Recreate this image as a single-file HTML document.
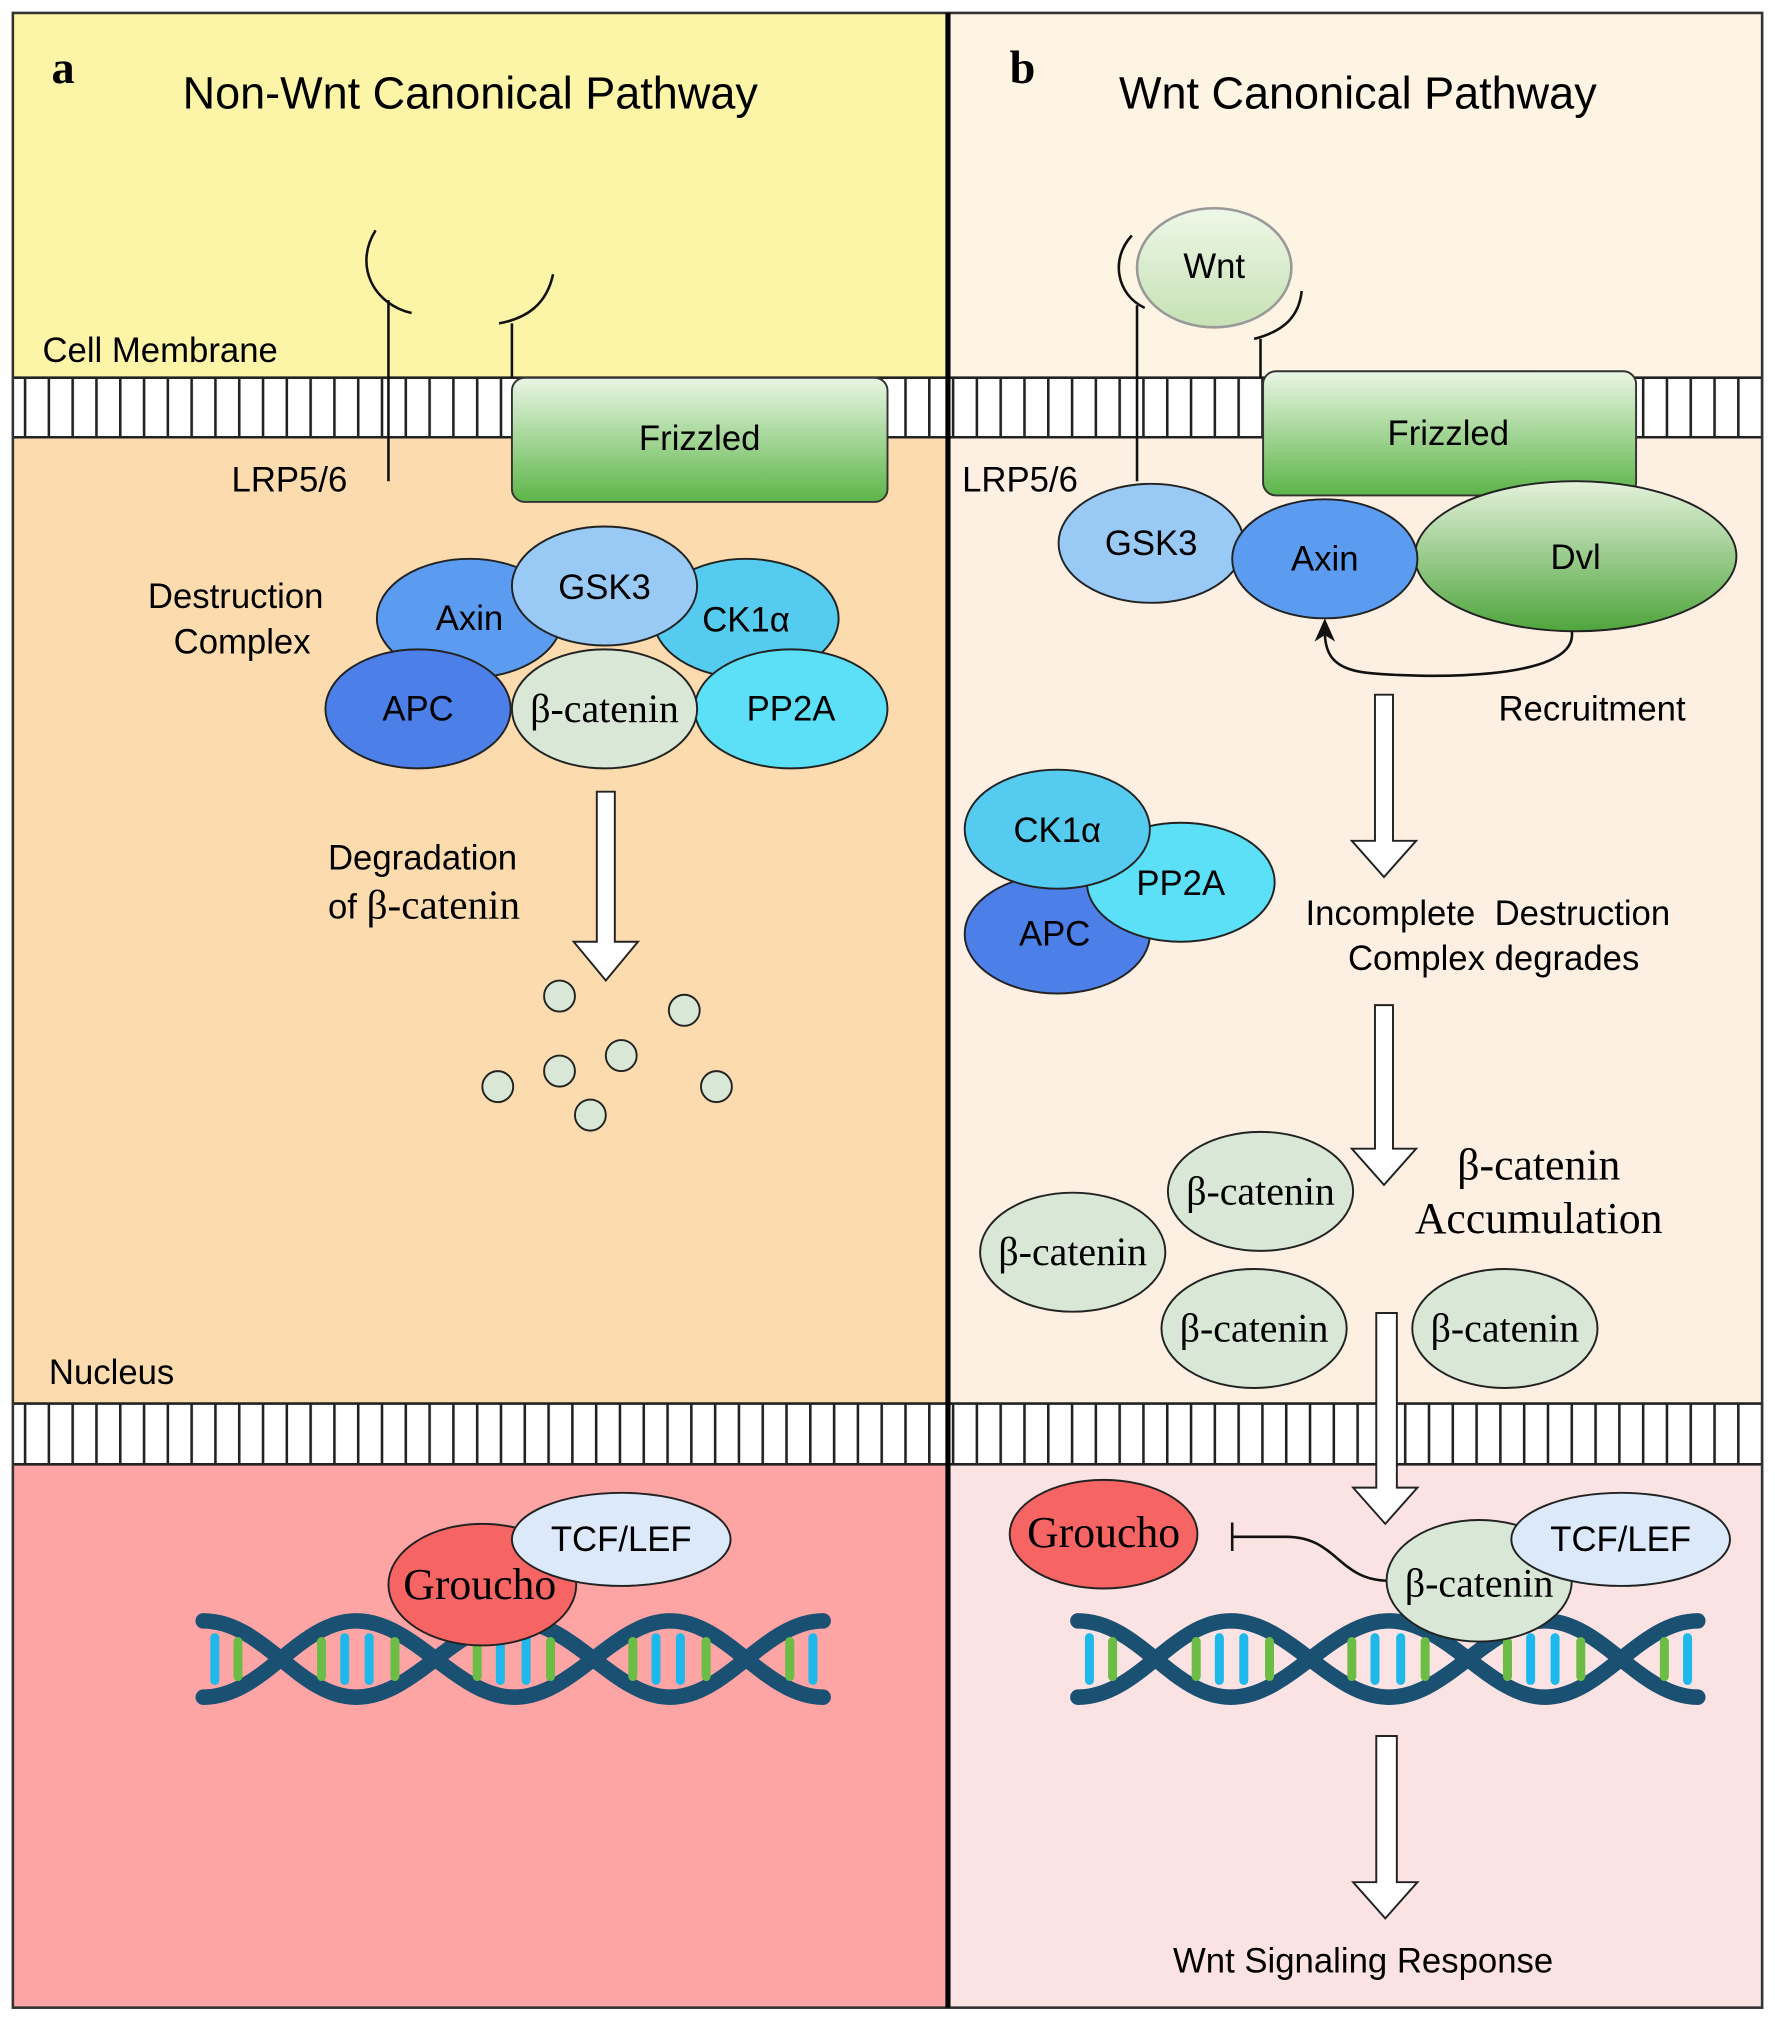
<!DOCTYPE html>
<html><head><meta charset="utf-8"><style>html,body{margin:0;padding:0;background:#fff}svg{display:block}
.s{font-family:"Liberation Sans",sans-serif;font-size:27px;fill:#000}
.r{font-family:"Liberation Serif",serif;font-size:31px;fill:#000}
.e{stroke:#222;stroke-width:1.5}</style></head><body>
<svg width="1775" height="2018" viewBox="0 0 1380 1560" preserveAspectRatio="none" xmlns="http://www.w3.org/2000/svg">
<defs>
<pattern id="mb" x="0" y="0" width="18.5" height="50" patternUnits="userSpaceOnUse"><rect width="18.5" height="50" fill="#fff"/><rect x="0" y="0" width="2" height="50" fill="#222"/></pattern>
<linearGradient id="fz" x1="0" y1="0" x2="0" y2="1"><stop offset="0" stop-color="#eaf6e4"/><stop offset="1" stop-color="#5cb548"/></linearGradient>
<linearGradient id="dv" x1="0" y1="0" x2="0" y2="1"><stop offset="0" stop-color="#e4f2dc"/><stop offset="1" stop-color="#4ea53c"/></linearGradient>
<linearGradient id="wn" x1="0" y1="0" x2="0" y2="1"><stop offset="0" stop-color="#eef7e8"/><stop offset="1" stop-color="#c6e2b4"/></linearGradient>
<g id="dna">
<path d="M158 1253 C205 1253 232 1312 277 1312 C322 1312 355 1253 400 1253 C445 1253 478 1312 521 1312 C565 1312 595 1253 640 1253" fill="none" stroke="#1a5072" stroke-width="12" stroke-linecap="round"/>
<path d="M158 1312 C205 1312 232 1253 277 1253 C322 1253 355 1312 400 1312 C445 1312 478 1253 521 1253 C565 1253 595 1312 640 1312" fill="none" stroke="#1a5072" stroke-width="12" stroke-linecap="round"/>
<g stroke-width="7" stroke-linecap="round">
<line x1="167" y1="1266" x2="167" y2="1299" stroke="#1fb8ea"/><line x1="185" y1="1269" x2="185" y2="1296" stroke="#6bbd45"/>
<line x1="250" y1="1269" x2="250" y2="1296" stroke="#6bbd45"/><line x1="268" y1="1266" x2="268" y2="1299" stroke="#1fb8ea"/>
<line x1="287" y1="1266" x2="287" y2="1299" stroke="#1fb8ea"/><line x1="307" y1="1269" x2="307" y2="1296" stroke="#6bbd45"/>
<line x1="371" y1="1269" x2="371" y2="1296" stroke="#6bbd45"/><line x1="389" y1="1266" x2="389" y2="1299" stroke="#1fb8ea"/>
<line x1="409" y1="1266" x2="409" y2="1299" stroke="#1fb8ea"/><line x1="428" y1="1269" x2="428" y2="1296" stroke="#6bbd45"/>
<line x1="492" y1="1269" x2="492" y2="1296" stroke="#6bbd45"/><line x1="510" y1="1266" x2="510" y2="1299" stroke="#1fb8ea"/>
<line x1="529" y1="1266" x2="529" y2="1299" stroke="#1fb8ea"/><line x1="549" y1="1269" x2="549" y2="1296" stroke="#6bbd45"/>
<line x1="614" y1="1269" x2="614" y2="1296" stroke="#6bbd45"/><line x1="632" y1="1266" x2="632" y2="1299" stroke="#1fb8ea"/>
</g></g>
</defs>
<rect width="1380" height="1560" fill="#fff"/>
<rect x="10" y="10" width="727" height="282" fill="#fcf5a8"/>
<rect x="737" y="10" width="633" height="282" fill="#fdf4e4"/>
<rect x="10" y="338" width="727" height="747" fill="#fcdcae"/>
<rect x="737" y="338" width="633" height="747" fill="#fdf0e3"/>
<rect x="10" y="1132" width="727" height="420" fill="#fda5a5"/>
<rect x="737" y="1132" width="633" height="420" fill="#fbe3e3"/>
<rect x="10" y="292" width="1360" height="46" fill="url(#mb)"/>
<line x1="10" y1="292" x2="1370" y2="292" stroke="#222" stroke-width="2"/>
<line x1="10" y1="338" x2="1370" y2="338" stroke="#222" stroke-width="2"/>
<rect x="10" y="1085" width="1360" height="47" fill="url(#mb)"/>
<line x1="10" y1="1085" x2="1370" y2="1085" stroke="#222" stroke-width="2"/>
<line x1="10" y1="1132" x2="1370" y2="1132" stroke="#222" stroke-width="2"/>
<rect x="10" y="10" width="1360" height="1542" fill="none" stroke="#333" stroke-width="2"/>
<line x1="737" y1="10" x2="737" y2="1552" stroke="#000" stroke-width="4"/>

<!-- LEFT -->
<text x="40" y="64" style="font-family:'Liberation Serif',serif;font-weight:bold;font-size:36px">a</text>
<text x="142" y="84" class="s" style="font-size:35px">Non-Wnt Canonical Pathway</text>
<text x="33" y="280" class="s">Cell Membrane</text>
<path d="M302 372 L302 232" stroke="#111" stroke-width="2" fill="none"/>
<path d="M292 178 C275 205 290 235 320 242" stroke="#111" stroke-width="2" fill="none"/>
<path d="M398 292 L398 250" stroke="#111" stroke-width="2" fill="none"/>
<path d="M430 212 C425 235 410 246 388 250" stroke="#111" stroke-width="2" fill="none"/>
<rect x="398" y="292" width="292" height="96" rx="10" fill="url(#fz)" stroke="#333" stroke-width="1.5"/>
<text x="544" y="348" class="s" text-anchor="middle">Frizzled</text>
<text x="180" y="380" class="s">LRP5/6</text>
<text x="115" y="470" class="s">Destruction</text>
<text x="135" y="505" class="s">Complex</text>
<ellipse cx="365" cy="478" rx="72" ry="46" fill="#5b9cf0" class="e"/>
<ellipse cx="580" cy="478" rx="72" ry="46" fill="#55ccef" class="e"/>
<ellipse cx="470" cy="453" rx="72" ry="46" fill="#99c9f5" class="e"/>
<ellipse cx="325" cy="548" rx="72" ry="46" fill="#4d7fe8" class="e"/>
<ellipse cx="615" cy="548" rx="75" ry="46" fill="#5be0f8" class="e"/>
<ellipse cx="470" cy="548" rx="72" ry="46" fill="#d9e8d6" class="e"/>
<text x="365" y="487" class="s" text-anchor="middle">Axin</text>
<text x="470" y="463" class="s" text-anchor="middle">GSK3</text>
<text x="580" y="488" class="s" text-anchor="middle">CK1α</text>
<text x="325" y="557" class="s" text-anchor="middle">APC</text>
<text x="615" y="557" class="s" text-anchor="middle">PP2A</text>
<text x="470" y="558" class="r" text-anchor="middle">β-catenin</text>
<path d="M464 612 H478 V728 H496 L471 758 L446 728 H464 Z" fill="#fff" stroke="#222" stroke-width="1.5"/>
<text x="255" y="672" class="s">Degradation</text>
<text x="255" y="710" class="s">of <tspan style="font-family:'Liberation Serif',serif;font-size:32px">β-catenin</tspan></text>
<g fill="#d9e8d6" stroke="#222" stroke-width="1.5">
<circle cx="435" cy="770" r="12"/><circle cx="532" cy="781" r="12"/><circle cx="483" cy="816" r="12"/><circle cx="435" cy="828" r="12"/><circle cx="387" cy="840" r="12"/><circle cx="557" cy="840" r="12"/><circle cx="459" cy="862" r="12"/></g>
<text x="38" y="1070" class="s">Nucleus</text>
<use href="#dna"/>
<ellipse cx="375" cy="1225" rx="73" ry="47" fill="#f76464" class="e"/>
<ellipse cx="483" cy="1190" rx="85" ry="36" fill="#dbe9fb" class="e"/>
<text x="373" y="1236" class="r" text-anchor="middle" style="font-size:34px">Groucho</text>
<text x="483" y="1199" class="s" text-anchor="middle">TCF/LEF</text>

<!-- RIGHT -->
<text x="785" y="64" style="font-family:'Liberation Serif',serif;font-weight:bold;font-size:36px">b</text>
<text x="870" y="84" class="s" style="font-size:35px">Wnt Canonical Pathway</text>
<ellipse cx="944" cy="207" rx="60" ry="46" fill="url(#wn)" stroke="#999" stroke-width="2"/>
<text x="944" y="215" class="s" text-anchor="middle">Wnt</text>
<path d="M880 182 C863 200 868 228 890 238" stroke="#111" stroke-width="2" fill="none"/>
<path d="M1012 225 C1010 245 998 256 975 262" stroke="#111" stroke-width="2" fill="none"/>
<line x1="884" y1="236" x2="884" y2="372" stroke="#111" stroke-width="2"/>
<line x1="980" y1="262" x2="980" y2="292" stroke="#111" stroke-width="2"/>
<rect x="982" y="287" width="290" height="96" rx="10" fill="url(#fz)" stroke="#333" stroke-width="1.5"/>
<text x="1126" y="344" class="s" text-anchor="middle">Frizzled</text>
<text x="748" y="380" class="s">LRP5/6</text>
<ellipse cx="895" cy="420" rx="72" ry="46" fill="#99c9f5" class="e"/>
<ellipse cx="1225" cy="430" rx="125" ry="58" fill="url(#dv)" class="e"/>
<ellipse cx="1030" cy="432" rx="72" ry="46" fill="#5b9cf0" class="e"/>
<text x="895" y="429" class="s" text-anchor="middle">GSK3</text>
<text x="1030" y="441" class="s" text-anchor="middle">Axin</text>
<text x="1225" y="440" class="s" text-anchor="middle">Dvl</text>
<path d="M1222 488 C1228 528 1100 524 1062 520 C1036 517 1030 505 1030 488" fill="none" stroke="#111" stroke-width="2"/>
<path d="M1030 478 L1022 496 L1030 491 L1038 496 Z" fill="#111"/>
<text x="1165" y="557" class="s">Recruitment</text>
<path d="M1069 537 H1083 V650 H1101 L1076 678 L1051 650 H1069 Z" fill="#fff" stroke="#222" stroke-width="1.5"/>
<ellipse cx="822" cy="722" rx="72" ry="46" fill="#4d7fe8" class="e"/>
<ellipse cx="918" cy="682" rx="73" ry="46" fill="#5be0f8" class="e"/>
<ellipse cx="822" cy="641" rx="72" ry="46" fill="#55ccef" class="e"/>
<text x="822" y="651" class="s" text-anchor="middle">CK1α</text>
<text x="918" y="692" class="s" text-anchor="middle">PP2A</text>
<text x="820" y="731" class="s" text-anchor="middle">APC</text>
<text x="1015" y="715" class="s" xml:space="preserve">Incomplete  Destruction</text>
<text x="1048" y="750" class="s">Complex degrades</text>
<path d="M1069 777 H1083 V888 H1101 L1076 916 L1051 888 H1069 Z" fill="#fff" stroke="#222" stroke-width="1.5"/>
<g fill="#d9e8d6" class="e">
<ellipse cx="980" cy="921" rx="72" ry="46"/><ellipse cx="834" cy="968" rx="72" ry="46"/><ellipse cx="975" cy="1027" rx="72" ry="46"/><ellipse cx="1170" cy="1027" rx="72" ry="46"/></g>
<text x="980" y="931" class="r" text-anchor="middle">β-catenin</text>
<text x="834" y="978" class="r" text-anchor="middle">β-catenin</text>
<text x="975" y="1037" class="r" text-anchor="middle">β-catenin</text>
<text x="1170" y="1037" class="r" text-anchor="middle">β-catenin</text>
<text x="1133" y="912" class="r" style="font-size:34px">β-catenin</text>
<text x="1100" y="953" class="r" style="font-size:34px">Accumulation</text>
<path d="M1070 1015 H1086 V1150 H1102 L1077 1178 L1052 1150 H1070 Z" fill="#fff" stroke="#222" stroke-width="1.5"/>
<use href="#dna" transform="translate(680,0)"/>
<ellipse cx="858" cy="1186" rx="73" ry="42" fill="#f76464" class="e"/>
<text x="858" y="1196" class="r" text-anchor="middle" style="font-size:34px">Groucho</text>
<path d="M1080 1222 C1040 1222 1040 1188 1000 1188 L958 1188 M958 1177 V1199" fill="none" stroke="#111" stroke-width="2"/>
<ellipse cx="1150" cy="1222" rx="72" ry="47" fill="#d9e8d6" class="e"/>
<ellipse cx="1260" cy="1190" rx="85" ry="36" fill="#dbe9fb" class="e"/>
<text x="1150" y="1234" class="r" text-anchor="middle">β-catenin</text>
<text x="1260" y="1199" class="s" text-anchor="middle">TCF/LEF</text>
<path d="M1070 1342 H1086 V1455 H1102 L1077 1483 L1052 1455 H1070 Z" fill="#fff" stroke="#222" stroke-width="1.5"/>
<text x="912" y="1525" class="s">Wnt Signaling Response</text>
</svg>
</body></html>
